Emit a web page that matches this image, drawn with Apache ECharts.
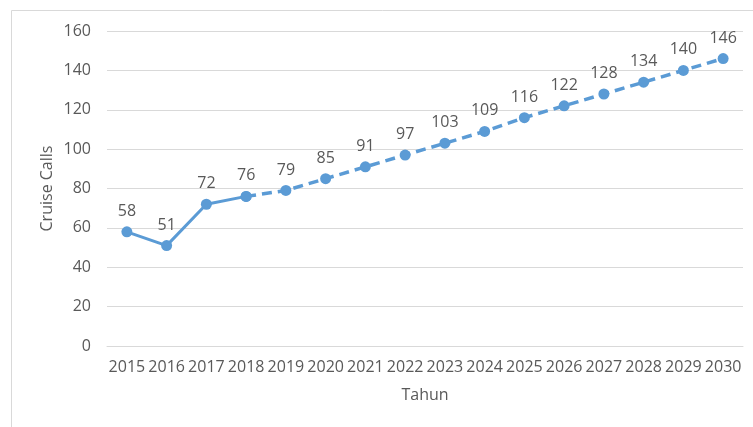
<!DOCTYPE html>
<html>
<head>
<meta charset="utf-8">
<script src="https://cdn.jsdelivr.net/npm/echarts@6/dist/echarts.min.js"></script>
<style>
  html, body { margin: 0; padding: 0; background: #fff; }
  #chart { width: 753px; height: 427px; }
</style>
</head>
<body>
<div id="chart"></div>
<script>
// data
const years = ["2015", "2016", "2017", "2018", "2019", "2020", "2021", "2022",
  "2023", "2024", "2025", "2026", "2027", "2028", "2029", "2030"];
const calls = [58, 51, 72, 76, 79, 85, 91, 97, 103, 109, 116, 122, 128, 134, 140, 146];
const lastActual = 3; // 2018: solid line up to here, dashed after
const yTicks = { min: 0, max: 160, interval: 20 };

const blue = "#5B9BD5";
const grey = "#595959";
const font = "Open Sans";

// solid part keeps its labels, dashed part labels only after the join point
const actualData = calls.map((v, i) => (i <= lastActual ? v : null));
const forecastData = calls.map((v, i) => {
  if (i < lastActual) return null;
  if (i === lastActual) return { value: v, label: { show: false } };
  return v;
});

const labelCfg = {
  show: true,
  position: "top",
  distance: 7,
  color: grey,
  fontFamily: font,
  fontSize: 16,
};

const chart = echarts.init(document.getElementById("chart"));
chart.setOption({
  animation: false,
  graphic: [
    {
      type: "rect",
      shape: { x: 11.5, y: 10.5, width: 900, height: 600 },
      style: { fill: "none", stroke: "#D9D9D9", lineWidth: 1 },
      silent: true,
    },
  ],
  grid: { left: 107, right: 10, top: 31, bottom: 81 },
  xAxis: {
    type: "category",
    data: years,
    boundaryGap: true,
    name: "Tahun",
    nameLocation: "middle",
    nameGap: 41,
    nameMoveOverlap: false,
    nameTextStyle: { color: grey, fontFamily: font, fontSize: 16 },
    axisLine: { show: true, lineStyle: { color: "#D9D9D9", width: 1 } },
    axisTick: { show: false },
    axisLabel: {
      interval: 0,
      margin: 13,
      color: grey,
      fontFamily: font,
      fontSize: 16,
    },
  },
  yAxis: {
    type: "value",
    min: yTicks.min,
    max: yTicks.max,
    interval: yTicks.interval,
    name: "Cruise Calls",
    nameLocation: "middle",
    nameGap: 52,
    nameMoveOverlap: false,
    nameTextStyle: { color: grey, fontFamily: font, fontSize: 16 },
    axisLine: { show: false },
    axisTick: { show: false },
    axisLabel: { margin: 16, color: grey, fontFamily: font, fontSize: 16 },
    splitLine: { lineStyle: { color: "#D9D9D9", width: 1 } },
  },
  series: [
    {
      name: "Aktual",
      type: "line",
      data: actualData,
      symbol: "circle",
      symbolSize: 11,
      itemStyle: { color: blue },
      lineStyle: { color: blue, width: 3 },
      label: labelCfg,
      z: 3,
    },
    {
      name: "Proyeksi",
      type: "line",
      data: forecastData,
      symbol: "circle",
      symbolSize: 11,
      itemStyle: { color: blue },
      lineStyle: { color: blue, width: 3.5, type: [10, 6] },
      label: labelCfg,
      z: 2,
    },
  ],
});
</script>
</body>
</html>
